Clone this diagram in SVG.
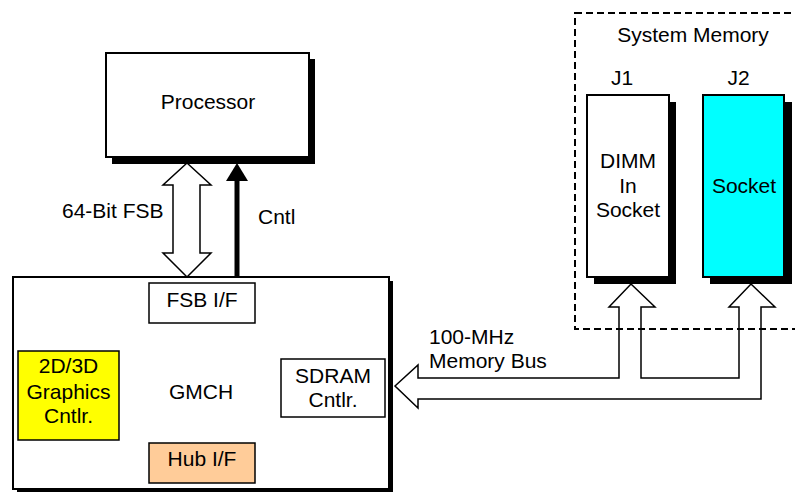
<svg xmlns="http://www.w3.org/2000/svg" width="795" height="492" viewBox="0 0 795 492">
<style>
text{font-family:"Liberation Sans",Arial,sans-serif;font-size:21px;fill:#000}
.c{text-anchor:middle}
.box{stroke:#000;stroke-width:2}
.sub{stroke:#000;stroke-width:1.5}
.sh{fill:#000}
.conn{fill:#fff;stroke:#000;stroke-width:1.5;stroke-linejoin:miter}
</style>
<rect width="795" height="492" fill="#fff"/>
<g id="system-memory">
<rect x="575" y="13" width="240" height="316" fill="none" stroke="#000" stroke-width="2" stroke-dasharray="7,4"/>
<text class="c" x="693" y="42">System Memory</text>
</g>
<g id="j1">
<rect class="sh" x="594" y="102" width="82" height="182"/>
<rect class="box" x="587" y="95" width="82" height="182" fill="#fff"/>
<text class="c" x="622" y="85">J1</text>
<text class="c" x="628" y="168">DIMM</text>
<text class="c" x="628" y="193">In</text>
<text class="c" x="628" y="217">Socket</text>
</g>
<g id="j2">
<rect class="sh" x="710" y="102" width="82" height="182"/>
<rect class="box" x="703" y="95" width="81" height="182" fill="#00ffff"/>
<text class="c" x="738.5" y="85">J2</text>
<text class="c" x="744" y="193">Socket</text>
</g>
<g id="processor">
<rect class="sh" x="112" y="59" width="203" height="105"/>
<rect class="box" x="106" y="53" width="203" height="104" fill="#fff"/>
<text class="c" x="208" y="109">Processor</text>
</g>
<g id="gmch">
<rect class="sh" x="17" y="281" width="376" height="212"/>
<rect class="box" x="13" y="277" width="376" height="212" fill="#fff"/>
<text class="c" x="201" y="399">GMCH</text>
</g>
<g id="fsb-if">
<rect class="sub" x="149" y="283" width="106" height="40" fill="#fff"/>
<text class="c" x="202" y="307">FSB I/F</text>
</g>
<g id="graphics">
<rect class="sub" x="18" y="351" width="101" height="89" fill="#ffff00"/>
<text class="c" x="68.5" y="373">2D/3D</text>
<text class="c" x="68.5" y="399">Graphics</text>
<text class="c" x="68.5" y="423">Cntlr.</text>
</g>
<g id="sdram">
<rect class="sub" x="281" y="359" width="104" height="58" fill="#fff"/>
<text class="c" x="333" y="383">SDRAM</text>
<text class="c" x="333" y="407">Cntlr.</text>
</g>
<g id="hub-if">
<rect class="sub" x="149" y="443" width="106" height="40" fill="#ffcc99"/>
<text class="c" x="202" y="466">Hub I/F</text>
</g>
<g id="connectors">
<polygon class="conn" points="187,163 211,185 200,185 200,253 211,253 187,277 163,253 173,253 173,185 163,185"/>
<line x1="237" y1="277" x2="237" y2="178" stroke="#000" stroke-width="5"/>
<polygon points="237,163 248,181 226,181" fill="#000"/>
<polygon class="conn" style="fill:none" points="395,386 418,365 418,378 619,378 619,307 609,307 631,284 655,307 641,307 641,378 739,378 739,307 729,307 751,284 775,307 761,307 761,399 418,399 418,408"/>
<text x="62" y="218">64-Bit FSB</text>
<text x="258" y="224">Cntl</text>
<text x="429" y="344">100-MHz</text>
<text x="429" y="368">Memory Bus</text>
</g>
</svg>
